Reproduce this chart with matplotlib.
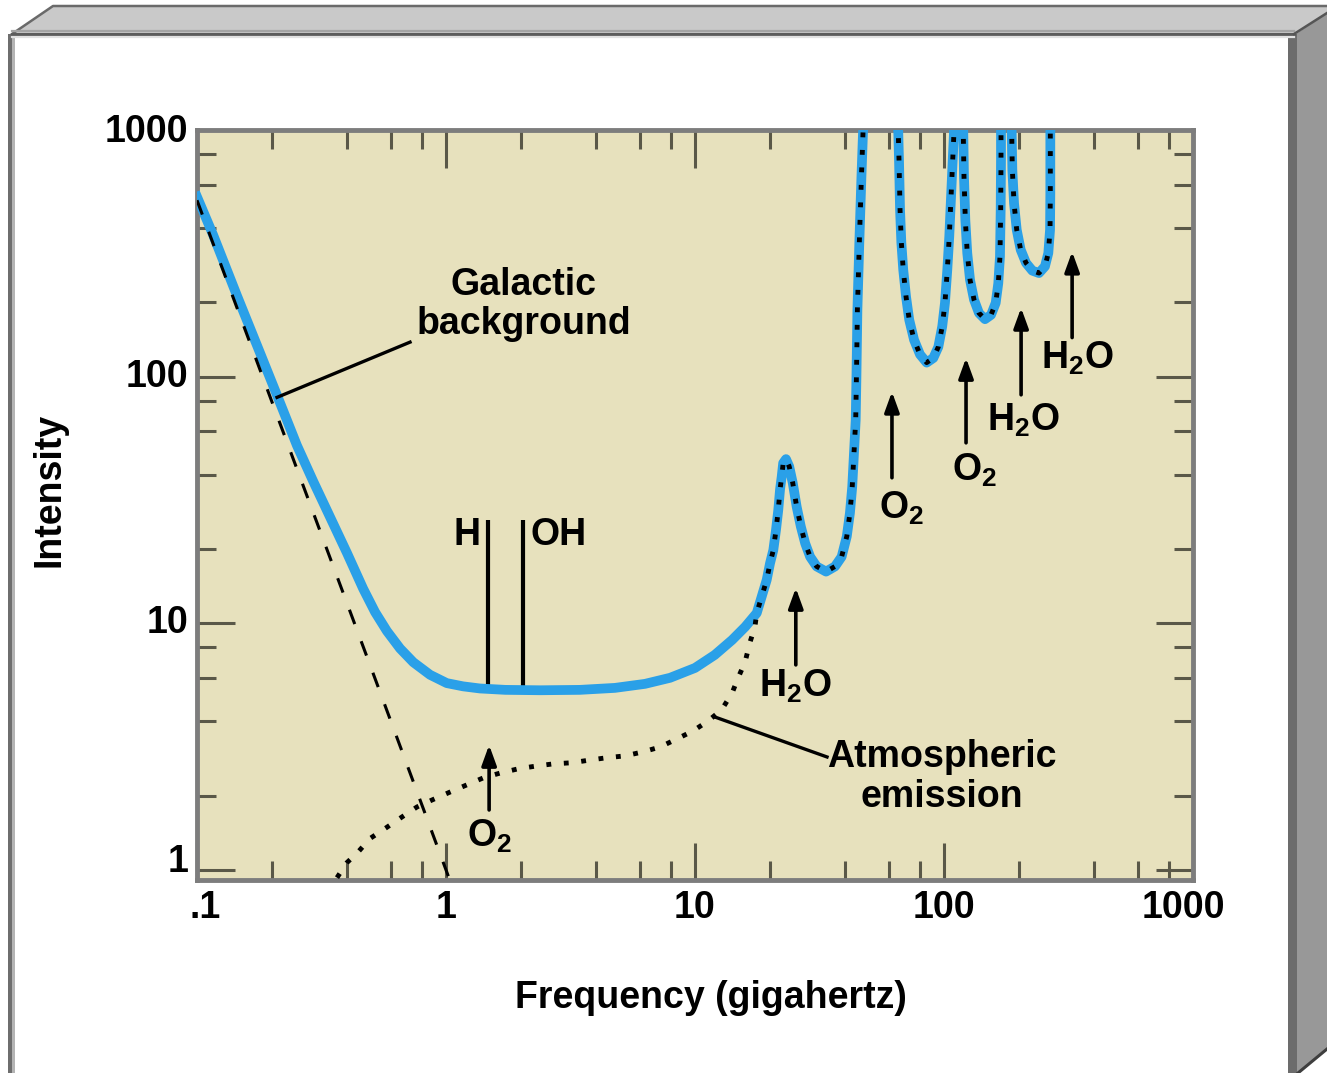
"""Sky brightness vs frequency: galactic background + atmospheric emission."""
import matplotlib
matplotlib.use("Agg")
import matplotlib.pyplot as plt
import matplotlib.transforms as mtransforms
from matplotlib.patches import Polygon, Rectangle
from matplotlib.ticker import FixedLocator, NullFormatter

plt.rcParams['font.family'] = ['Liberation Sans', 'DejaVu Sans']
plt.rcParams['font.weight'] = 'bold'
plt.rcParams['mathtext.fontset'] = 'custom'
plt.rcParams['mathtext.rm'] = 'Liberation Sans:bold'
plt.rcParams['mathtext.bf'] = 'Liberation Sans:bold'
plt.rcParams['mathtext.default'] = 'rm'

FS = 27

# --- data (GHz, arbitrary intensity) ---
gal_freq = [0.1, 0.2, 0.5, 1.0, 1.1]
gal_int = [519, 79, 6.6, 1.0, 0.77]

# total sky brightness (blue); values above 1000 are the off-scale line peaks
sky_freq = [0.1, 0.116, 0.1447, 0.179, 0.2154, 0.252, 0.293, 0.342, 0.4, 0.465,
            0.519, 0.579, 0.654, 0.739, 0.863, 1.007, 1.17, 1.369, 1.73, 2.39,
            3.45, 4.77, 6.30, 7.94, 10.0, 12.0, 14.1, 15.9, 17.7,
            19.41, 20.01, 20.63, 21.15, 21.6, 21.95, 22.3, 22.6, 23.2, 23.9,
            24.7, 25.6, 26.6, 27.7, 29.0, 30.8, 33.6, 36.5, 38.8, 40.7, 41.9,
            42.8, 43.5, 44.2, 44.5, 44.9, 45.7, 46.6, 47.3, 56,
            65.5, 65.96, 66.6, 67.4, 68.6, 70.4, 72.5, 75.8, 80.1, 85.2, 90.6,
            94.9, 98.4, 100.9, 103.1, 105.0, 106.9, 108.4, 109.7, 114.5,
            119.5, 120.3, 121.8, 124.0, 127.2, 132.0, 138.2, 146.1, 154.5,
            161.3, 165.2, 167.8, 168.9, 169.4, 169.4, 178,
            187.0, 188.1, 191.1, 195.9, 203.2, 213.5, 226.3, 240.7, 254.4,
            262.4, 266.6, 267.3, 267.3, 267.3, 300]
sky_int = [536, 376, 213, 125, 78.4, 52.6, 37.6, 27.0, 19.3, 13.8,
           11.1, 9.3, 7.9, 6.95, 6.18, 5.72, 5.55, 5.44, 5.37, 5.35,
           5.37, 5.47, 5.68, 6.01, 6.59, 7.44, 8.56, 9.67, 11.0,
           15.0, 17.5, 19.8, 23.9, 28.8, 34.8, 39.4, 44.6, 46.3, 43.2,
           37.0, 29.7, 24.7, 21.1, 18.6, 17.0, 16.2, 17.0, 18.6, 22.5, 28.0,
           35.8, 49.0, 66.8, 100, 187, 349, 646, 986, 4000,
           986, 759, 475, 350, 271, 211, 170, 141, 123, 114, 119,
           132, 160, 199, 271, 370, 555, 759, 986, 4000,
           986, 648, 432, 317, 247, 205, 181, 171, 178,
           199, 239, 307, 475, 759, 986, 4000,
           986, 690, 505, 394, 327, 289, 269, 263, 280,
           317, 394, 555, 759, 986, 4000]

# atmospheric emission below ~17 GHz; above that it is the blue curve itself
atm_freq = [0.365, 0.40, 0.443, 0.495, 0.574, 0.666, 0.765, 0.878, 1.04, 1.21,
            1.41, 1.65, 1.95, 2.32, 2.69, 3.21, 3.79, 4.43, 5.24, 6.18, 7.24,
            8.47, 9.82, 11.3, 12.8, 14.1, 14.9, 15.9, 16.6, 17.4]
atm_int = [0.93, 1.07, 1.18, 1.34, 1.48, 1.64, 1.80, 1.92, 2.07, 2.21,
           2.36, 2.47, 2.57, 2.64, 2.69, 2.72, 2.79, 2.85, 2.90, 3.01, 3.15,
           3.40, 3.66, 4.02, 4.46, 5.22, 6.01, 6.98, 8.33, 9.67]

# H and OH spectral lines
line_freq = [1.47, 2.03]
line_bottom = [5.5, 5.4]
line_top = 26.3

# absorption-line arrows
arrow_freq = [1.49, 25.4, 61.8, 122.6, 204, 327]
arrow_tail = [1.75, 6.78, 38.9, 53.9, 84.4, 144]
arrow_head = [3.21, 13.9, 86.8, 119, 190, 321]
arrow_labels = ['O$_2$', 'H$_2$O', 'O$_2$', 'O$_2$', 'H$_2$O', 'H$_2$O']

x_ticks = [0.1, 1, 10, 100, 1000]
x_tick_labels = ['.1', '1', '10', '100', '1000']
y_ticks = [1, 10, 100, 1000]
y_tick_labels = ['1', '10', '100', '1000']

W, H = 1327, 1073
fig = plt.figure(figsize=(W / 100, H / 100), dpi=100)
fig.patch.set_facecolor('white')

# --- the 3D-ish panel frame, drawn in pixel coordinates ---
frame = fig.add_axes([0, 0, 1, 1], zorder=0)
frame.set_xlim(0, W)
frame.set_ylim(H, 0)
frame.axis('off')
frame.add_patch(Polygon([(12, 34), (53, 6), (1327, 6), (1327, 13), (1294, 34)],
                        closed=True, fc='#c9c9c9', ec='none'))
frame.plot([12, 53, 1327], [34, 6, 6], color='#6a6a6a', lw=1.8)
frame.plot([12, 1294], [31, 31], color='#a4a4a4', lw=1.6)
frame.plot([12, 1294], [34, 34], color='#5c5c5c', lw=2.2)
frame.plot([12, 1294], [37, 37], color='#e2e2e2', lw=1.6)
frame.add_patch(Polygon([(1296, 34), (1327, 13), (1327, 1050), (1298, 1073), (1296, 1073)],
                        closed=True, fc='#989898', ec='none'))
frame.add_patch(Rectangle((1288, 34), 9, H - 34, fc='#6c6c6c', ec='none'))
frame.plot([1294, 1327], [34, 13], color='#555555', lw=1.8)
frame.plot([1298, 1327], [1073, 1049], color='#3e3e3e', lw=2.2)
frame.add_patch(Rectangle((8, 34), 4, H - 34, fc='#6e6e6e', ec='none'))
frame.add_patch(Rectangle((12, 34), 3, H - 34, fc='#b4b4b4', ec='none'))

# --- main chart ---
ax = fig.add_axes([197 / W, 1 - 880 / H, (1193 - 197) / W, (880 - 130) / H], zorder=1)
ax.set_facecolor('#e7e1bd')
ax.set_xscale('log')
ax.set_yscale('log')
ax.set_xlim(0.1, 1000)
ax.set_ylim(0.91, 1000)

ax.xaxis.set_major_locator(FixedLocator(x_ticks))
ax.yaxis.set_major_locator(FixedLocator(y_ticks))
ax.xaxis.set_minor_locator(FixedLocator([m * d for d in [0.1, 1, 10, 100] for m in (2, 4, 6, 8)]))
ax.yaxis.set_minor_locator(FixedLocator([m * d for d in [1, 10, 100] for m in (2, 4, 6, 8)]))
for axis in (ax.xaxis, ax.yaxis):
    axis.set_major_formatter(NullFormatter())
    axis.set_minor_formatter(NullFormatter())
tick_col = '#5a5848'
ax.tick_params(which='both', direction='in', top=True, right=True, color=tick_col,
               width=2.2, labelbottom=False, labelleft=False)
ax.tick_params(which='major', length=27)
ax.tick_params(which='minor', length=13.5)
for sp in ax.spines.values():
    sp.set_color('#7d7d7d')
    sp.set_linewidth(3.5)

# tick labels placed by hand so the end ones can sit inside the frame
xt = mtransforms.blended_transform_factory(ax.transData, ax.transAxes)
yt = mtransforms.blended_transform_factory(ax.transAxes, ax.transData)
x_nudge = {0: 8, 4: -10}
for i, (v, lab) in enumerate(zip(x_ticks, x_tick_labels)):
    off = mtransforms.ScaledTranslation(x_nudge.get(i, 0) / 100, -10 / 100, fig.dpi_scale_trans)
    ax.text(v, 0, lab, transform=xt + off, ha='center', va='top', fontsize=FS,
            fontweight='bold', clip_on=False)
for i, (v, lab) in enumerate(zip(y_ticks, y_tick_labels)):
    dy = 8 if i == 0 else (-2 if i == len(y_ticks) - 1 else 0)
    off = mtransforms.ScaledTranslation(-9 / 100, dy / 100, fig.dpi_scale_trans)
    ax.text(0, v, lab, transform=yt + off, ha='right', va='center', fontsize=FS,
            fontweight='bold', clip_on=False)

fig.text(711 / W, 1 - 998 / H, 'Frequency (gigahertz)', ha='center', va='center',
         fontsize=FS, fontweight='bold')
fig.text(49 / W, 1 - 490 / H, 'Intensity', ha='center', va='center', rotation=90,
         fontsize=FS, fontweight='bold')

# H / OH line markers (under the curve)
for f, b in zip(line_freq, line_bottom):
    ax.plot([f, f], [b, line_top], color='black', lw=3, solid_capstyle='butt', zorder=2)
ax.text(1.38, 22.8, 'H', ha='right', va='center', fontsize=FS, fontweight='bold', zorder=5)
ax.text(2.19, 22.8, 'OH', ha='left', va='center', fontsize=FS, fontweight='bold', zorder=5)

# total sky brightness
ax.plot(sky_freq, sky_int, color='#2aa0e8', lw=7, solid_joinstyle='round', zorder=3)

# galactic background (dashed)
ax.plot(gal_freq, gal_int, color='black', lw=2.2, ls=(0, (5, 6)), zorder=4)

# atmospheric emission (dotted), continuing on top of the blue curve
atm_f = atm_freq + [f for f in sky_freq if f >= 17.7]
atm_i = atm_int + [v for f, v in zip(sky_freq, sky_int) if f >= 17.7]
ax.plot(atm_f, atm_i, color='black', lw=3.5, ls=(0, (1, 2.6)), zorder=4)

# absorption arrows and labels
label_top = [1.63, 6.59, 34.7, 49.5, 79, 141]
label_x = [1.50, 25.2, 67.8, 133, 208, 342]
for f, t, h, lab, lx, ly in zip(arrow_freq, arrow_tail, arrow_head, arrow_labels,
                                label_x, label_top):
    ax.annotate('', xy=(f, h), xytext=(f, t),
                arrowprops=dict(arrowstyle='-|>,head_length=0.55,head_width=0.2',
                                lw=2.6, color='black', shrinkA=0, shrinkB=0,
                                mutation_scale=22), zorder=5)
    ax.text(lx, ly, lab, ha='center', va='top', fontsize=FS, zorder=5)

# callouts
ax.plot([0.2096, 0.717], [82.4, 138], color='black', lw=2.4, zorder=5)
ax.text(2.05, 195.6, 'Galactic\nbackground', ha='center', va='center', fontsize=FS,
        fontweight='bold', linespacing=1.1, zorder=5)
ax.plot([12.0, 33.9], [4.17, 2.87], color='black', lw=2.4, zorder=5)
ax.text(98.2, 2.38, 'Atmospheric\nemission', ha='center', va='center', fontsize=FS,
        fontweight='bold', linespacing=1.12, zorder=5)

fig.savefig('out.png', dpi=100)
